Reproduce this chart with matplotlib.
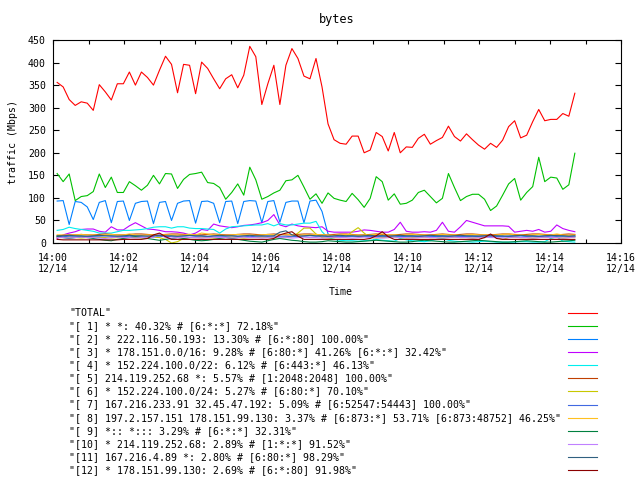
import matplotlib
matplotlib.use("Agg")
import matplotlib.pyplot as plt
import matplotlib.dates as mdates
from matplotlib.lines import Line2D
import pandas as pd

plt.rcParams['font.family'] = 'DejaVu Sans Mono'
plt.rcParams['font.size'] = 7.15

# sample times (one sample roughly every 10 s)
times = pd.date_range("2014-12-14 14:00:07", "2014-12-14 14:14:42", periods=87)

labels = [
    '"TOTAL"',
    '"[ 1] * *: 40.32% # [6:*:*] 72.18%"',
    '"[ 2] * 222.116.50.193: 13.30% # [6:*:80] 100.00%"',
    '"[ 3] * 178.151.0.0/16: 9.28% # [6:80:*] 41.26% [6:*:*] 32.42%"',
    '"[ 4] * 152.224.100.0/22: 6.12% # [6:443:*] 46.13%"',
    '"[ 5] 214.119.252.68 *: 5.57% # [1:2048:2048] 100.00%"',
    '"[ 6] * 152.224.100.0/24: 5.27% # [6:80:*] 70.10%"',
    '"[ 7] 167.216.233.91 32.45.47.192: 5.09% # [6:52547:54443] 100.00%"',
    '"[ 8] 197.2.157.151 178.151.99.130: 3.37% # [6:873:*] 53.71% [6:873:48752] 46.25%"',
    '"[ 9] *:: *::: 3.29% # [6:*:*] 32.31%"',
    '"[10] * 214.119.252.68: 2.89% # [1:*:*] 91.52%"',
    '"[11] 167.216.4.89 *: 2.80% # [6:80:*] 98.29%"',
    '"[12] * 178.151.99.130: 2.69% # [6:*:80] 91.98%"',
]

colors = ['#ff0000', '#00c000', '#0080ff', '#c000ff', '#00eeee', '#c04000',
          '#c8c800', '#4169e1', '#ffc020', '#008040', '#c080ff', '#306080',
          '#8b0000']

total = [356, 346, 318, 305, 313, 310, 294, 351, 335, 317,
         353, 353, 379, 350, 379, 367, 350, 383, 414, 396,
         333, 396, 394, 331, 401, 387, 364, 342, 364, 373,
         344, 372, 436, 413, 307, 353, 394, 307, 394, 431,
         409, 370, 364, 409, 346, 264, 229, 221, 219, 237,
         237, 200, 206, 245, 236, 204, 245, 200, 213, 212,
         232, 241, 219, 227, 234, 259, 236, 226, 242, 229,
         217, 208, 221, 212, 228, 258, 271, 233, 239, 269,
         296, 271, 274, 274, 287, 281, 332]

s1 = [154, 136, 153, 94, 103, 105, 114, 153, 123, 146,
      112, 112, 136, 127, 117, 128, 150, 131, 154, 153,
      121, 141, 152, 154, 157, 134, 132, 123, 97, 112,
      131, 106, 168, 140, 97, 103, 111, 117, 138, 140,
      150, 124, 97, 109, 88, 111, 99, 95, 92, 110,
      96, 79, 99, 147, 136, 95, 109, 86, 88, 95,
      112, 117, 103, 89, 99, 154, 123, 94, 103, 108,
      108, 97, 72, 82, 106, 131, 143, 95, 112, 125,
      190, 136, 146, 144, 119, 129, 199]

s2 = [93, 94, 41, 92, 90, 80, 52, 90, 94, 45,
      92, 93, 50, 88, 92, 93, 43, 90, 92, 50,
      88, 93, 94, 44, 92, 93, 88, 45, 92, 93,
      43, 92, 94, 93, 45, 92, 94, 46, 90, 93,
      93, 45, 93, 95, 70, 20, 12, 14, 15, 15,
      16, 15, 14, 15, 16, 16, 15, 14, 15, 15,
      16, 16, 15, 14, 15, 16, 16, 15, 15, 14,
      15, 16, 16, 15, 14, 15, 16, 16, 15, 15,
      14, 16, 17, 16, 15, 16, 15]

s3 = [10, 18, 22, 25, 30, 31, 31, 26, 24, 36,
      29, 29, 38, 45, 38, 31, 30, 28, 25, 25,
      24, 22, 18, 22, 30, 28, 42, 38, 36, 34,
      36, 39, 40, 42, 45, 50, 63, 40, 36, 42,
      38, 36, 35, 34, 36, 26, 24, 24, 24, 24,
      26, 29, 28, 26, 24, 24, 30, 46, 26, 24,
      24, 25, 24, 28, 46, 26, 24, 36, 50, 46,
      42, 38, 38, 38, 38, 37, 24, 26, 28, 26,
      30, 24, 26, 40, 32, 28, 25]

s4 = [28, 30, 35, 32, 30, 28, 26, 22, 22, 22,
      25, 28, 28, 29, 30, 32, 35, 36, 36, 33,
      36, 36, 33, 32, 32, 31, 30, 22, 31, 36,
      37, 38, 39, 40, 40, 43, 38, 43, 40, 40,
      42, 44, 44, 48, 25, 12, 8, 6, 5, 5,
      4, 5, 6, 8, 6, 5, 4, 10, 7, 5,
      4, 3, 5, 8, 10, 6, 4, 3, 3, 2,
      3, 4, 3, 2, 2, 2, 2, 3, 3, 2,
      2, 3, 10, 14, 4, 3, 2]

s5 = [16, 17, 18, 18, 19, 18, 18, 19, 20, 19,
      18, 18, 19, 20, 20, 19, 18, 18, 19, 20,
      20, 19, 19, 18, 18, 19, 20, 19, 18, 18,
      19, 20, 20, 19, 18, 19, 20, 19, 18, 18,
      19, 20, 20, 19, 18, 18, 19, 20, 20, 19,
      18, 18, 19, 20, 19, 18, 18, 19, 20, 20,
      19, 18, 18, 19, 20, 19, 18, 19, 20, 20,
      19, 18, 18, 19, 20, 20, 19, 18, 19, 20,
      20, 19, 18, 18, 19, 20, 19]

s6 = [12, 12, 13, 12, 11, 12, 13, 12, 12, 11,
      12, 13, 12, 12, 11, 12, 13, 12, 8, 0,
      3, 10, 12, 12, 13, 12, 11, 12, 12, 13,
      12, 11, 12, 12, 13, 12, 12, 11, 12, 14,
      22, 33, 33, 20, 12, 11, 12, 12, 14, 25,
      34, 22, 12, 11, 12, 12, 13, 12, 11, 12,
      12, 13, 12, 12, 11, 12, 13, 12, 12, 11,
      12, 12, 13, 12, 8, 12, 13, 12, 12, 11,
      12, 13, 12, 12, 11, 12, 13]

s7 = [14, 14, 15, 15, 15, 14, 15, 15, 16, 15,
      15, 14, 15, 15, 15, 16, 15, 15, 14, 15,
      15, 15, 16, 15, 15, 14, 15, 15, 15, 16,
      15, 15, 14, 15, 15, 16, 15, 15, 15, 14,
      15, 15, 16, 15, 15, 15, 14, 15, 15, 16,
      15, 15, 15, 14, 15, 15, 16, 15, 15, 15,
      14, 15, 15, 16, 15, 15, 15, 14, 15, 15,
      16, 15, 15, 15, 14, 15, 15, 16, 15, 15,
      15, 14, 15, 15, 16, 15, 15]

s8 = [18, 18, 17, 18, 19, 18, 18, 17, 18, 19,
      18, 18, 20, 18, 17, 18, 18, 19, 18, 18,
      17, 18, 19, 18, 22, 20, 18, 18, 17, 18,
      19, 18, 18, 17, 18, 19, 18, 18, 20, 18,
      17, 18, 18, 19, 18, 18, 17, 18, 19, 18,
      18, 17, 18, 19, 20, 18, 18, 17, 18, 19,
      18, 18, 17, 18, 19, 18, 18, 17, 18, 19,
      18, 18, 17, 18, 19, 20, 18, 18, 17, 18,
      19, 18, 18, 20, 18, 17, 18]

s9 = [14, 12, 10, 12, 14, 12, 10, 8, 6, 5,
      8, 10, 12, 14, 12, 10, 8, 6, 8, 10,
      12, 10, 8, 6, 5, 6, 8, 10, 12, 10,
      8, 6, 4, 3, 2, 5, 8, 10, 8, 6,
      5, 3, 2, 2, 3, 5, 4, 3, 2, 2,
      3, 4, 5, 6, 5, 4, 3, 2, 2, 3,
      5, 6, 5, 4, 3, 2, 2, 3, 4, 5,
      6, 5, 4, 3, 2, 2, 3, 4, 5, 4,
      3, 2, 2, 3, 4, 5, 6]

s10 = [12, 12, 11, 12, 13, 12, 12, 11, 10, 12,
       13, 12, 12, 11, 12, 13, 12, 20, 12, 11,
       12, 13, 12, 12, 11, 12, 13, 12, 12, 11,
       12, 13, 12, 12, 11, 12, 13, 12, 12, 11,
       12, 13, 12, 12, 11, 12, 13, 12, 12, 11,
       12, 13, 12, 12, 11, 12, 13, 12, 12, 11,
       12, 13, 12, 12, 11, 12, 13, 12, 12, 11,
       12, 13, 12, 12, 11, 12, 13, 12, 12, 11,
       12, 13, 12, 12, 11, 12, 13]

s11 = [16, 16, 17, 16, 16, 15, 16, 17, 16, 16,
       15, 16, 17, 16, 16, 15, 16, 17, 16, 16,
       15, 16, 17, 16, 16, 15, 16, 17, 16, 16,
       15, 16, 17, 16, 16, 15, 16, 24, 27, 18,
       15, 16, 17, 16, 16, 15, 16, 17, 16, 16,
       15, 16, 17, 16, 16, 15, 16, 17, 16, 16,
       15, 16, 17, 16, 16, 15, 16, 17, 16, 16,
       15, 16, 17, 16, 16, 15, 16, 17, 16, 16,
       15, 16, 17, 16, 16, 15, 16]

s12 = [8, 7, 7, 7, 7, 7, 7, 7, 7, 7,
       7, 8, 8, 8, 8, 10, 18, 22, 14, 8,
       8, 8, 8, 8, 8, 8, 8, 8, 8, 8,
       8, 8, 8, 8, 8, 8, 10, 18, 22, 25,
       15, 8, 8, 8, 8, 8, 8, 8, 8, 8,
       8, 8, 10, 16, 25, 14, 8, 8, 8, 8,
       8, 8, 8, 8, 8, 8, 8, 8, 8, 8,
       8, 12, 20, 10, 8, 8, 8, 8, 8, 8,
       8, 8, 8, 8, 8, 8, 8]

series = [total, s1, s2, s3, s4, s5, s6, s7, s8, s9, s10, s11, s12]

fig = plt.figure(figsize=(6.4, 4.8), dpi=100)
ax = fig.add_axes([53 / 640, 1 - 243 / 480, 568 / 640, 203 / 480])

for vals, col in zip(series, colors):
    ax.plot(times, vals, color=col, linewidth=0.8)

ax.set_xlim(pd.Timestamp("2014-12-14 14:00"), pd.Timestamp("2014-12-14 14:16"))
ax.set_ylim(0, 450)
ax.set_yticks(range(0, 451, 50))
ax.xaxis.set_major_locator(mdates.MinuteLocator(interval=2))
ax.xaxis.set_minor_locator(mdates.MinuteLocator(interval=1))
ax.xaxis.set_major_formatter(mdates.DateFormatter("%H:%M\n%m/%d"))

ax.tick_params(which='both', direction='in', top=True, right=True, width=0.8)
ax.tick_params(axis='y', which='major', length=4, pad=5)
ax.tick_params(axis='x', which='major', length=3, pad=7)
ax.tick_params(axis='x', which='minor', length=3)
for sp in ax.spines.values():
    sp.set_linewidth(0.8)

ax.set_title("bytes", pad=12)
ax.set_ylabel("traffic (Mbps)")
ax.yaxis.set_label_coords(-0.062, 0.5)
ax.set_xlabel("Time")
ax.xaxis.set_label_coords(0.507, -0.217)

# key below the plot: text on the left, line sample on the right
for i, (lab, col) in enumerate(zip(labels, colors)):
    yy = 1 - (313 + 13.08 * i) / 480
    fig.text(69 / 640, yy, lab, ha='left', va='center')
    fig.add_artist(Line2D([568 / 640, 597 / 640], [yy, yy], color=col,
                          linewidth=0.8, transform=fig.transFigure))

fig.savefig("out.png", dpi=100)
